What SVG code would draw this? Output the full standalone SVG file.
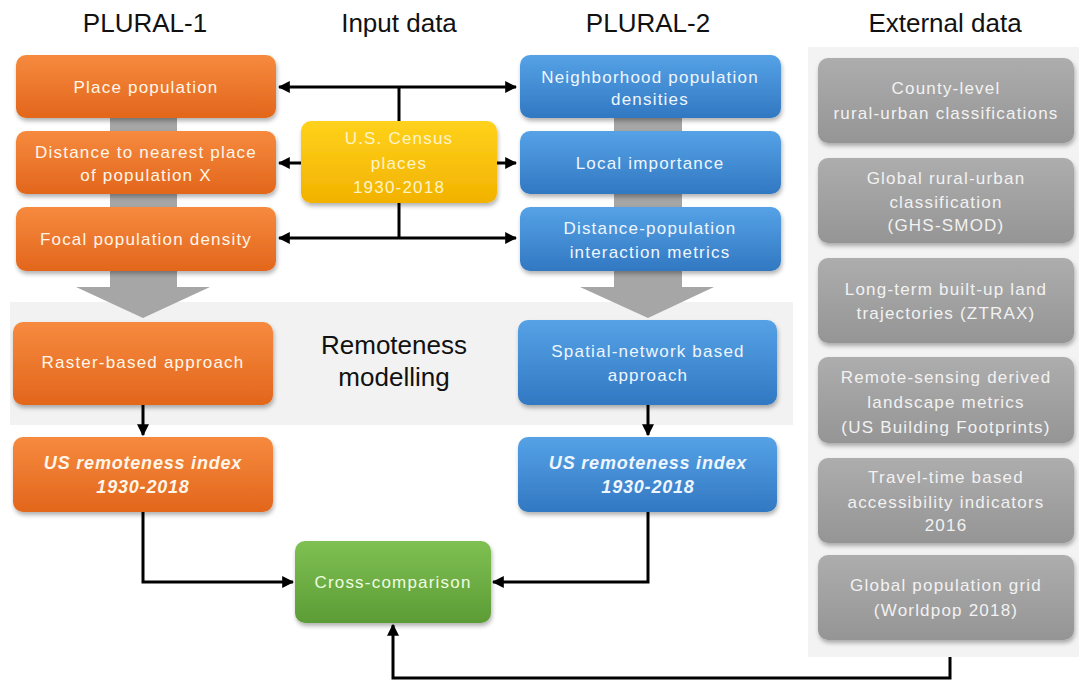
<svg xmlns="http://www.w3.org/2000/svg" width="1079" height="683" viewBox="0 0 1079 683">
<defs>
<linearGradient id="gO" x1="0" y1="0" x2="0" y2="1"><stop offset="0" stop-color="#f68a3e"/><stop offset="1" stop-color="#e2661c"/></linearGradient>
<linearGradient id="gB" x1="0" y1="0" x2="0" y2="1"><stop offset="0" stop-color="#56a2e6"/><stop offset="1" stop-color="#3178c2"/></linearGradient>
<linearGradient id="gY" x1="0" y1="0" x2="0" y2="1"><stop offset="0" stop-color="#ffd21c"/><stop offset="1" stop-color="#f2b200"/></linearGradient>
<linearGradient id="gG" x1="0" y1="0" x2="0" y2="1"><stop offset="0" stop-color="#7fc052"/><stop offset="1" stop-color="#5c9c36"/></linearGradient>
<linearGradient id="gK" x1="0" y1="0" x2="0" y2="1"><stop offset="0" stop-color="#adadad"/><stop offset="1" stop-color="#959595"/></linearGradient>
<filter id="sh" x="-10%" y="-10%" width="120%" height="130%"><feDropShadow dx="1" dy="3" stdDeviation="2" flood-color="#000" flood-opacity="0.3"/></filter>
<marker id="ah" viewBox="0 0 10 10" refX="9" refY="5" markerWidth="4" markerHeight="4" orient="auto-start-reverse" markerUnits="strokeWidth"><path d="M0,0 L10,5 L0,10 z" fill="#000"/></marker>
</defs>
<style>
text{font-family:"Liberation Sans",Arial,sans-serif;text-anchor:middle}
.title{font-size:26px;fill:#111}
.t{font-size:17px;letter-spacing:1.2px}
.tw{fill:#fff6ea}
.tb{fill:#eef6ff}
.ty{fill:#fff4c8}
.tk{fill:#f2f2f2}
.tg{fill:#eefde0}
.ti{font-size:18px;font-weight:bold;font-style:italic;letter-spacing:0.8px}
.bo{fill:url(#gO);filter:url(#sh)}
.bb{fill:url(#gB);filter:url(#sh)}
.by{fill:url(#gY);filter:url(#sh)}
.bg{fill:url(#gG);filter:url(#sh)}
.bk{fill:url(#gK);filter:url(#sh)}
.ln{fill:none;stroke:#000;stroke-width:3}
.gr{fill:#a6a6a6}
</style>
<rect width="1079" height="683" fill="#fff"/>
<!-- backgrounds -->
<rect x="10" y="302" width="783" height="123" fill="#f2f2f2"/>
<rect x="808" y="47" width="271" height="610" fill="#f3f3f3"/>
<!-- titles -->
<text class="title" x="145" y="32">PLURAL-1</text>
<text class="title" x="399" y="32">Input data</text>
<text class="title" x="648" y="32">PLURAL-2</text>
<text class="title" x="945" y="32">External data</text>
<text x="394" y="354" style="font-size:26px;fill:#111">Remoteness</text>
<text x="394" y="386" style="font-size:26px;fill:#111">modelling</text>
<!-- big gray arrows -->
<g id="flow-arrows">
<rect class="gr" x="110" y="115" width="67" height="175"/>
<path class="gr" d="M76,287 L210,287 L143,318 z"/>
<rect class="gr" x="614" y="115" width="68" height="175"/>
<path class="gr" d="M580,287 L714,287 L648,318 z"/>
</g>
<!-- connectors -->
<g id="connectors">
<path class="ln" d="M399,121 V87"/>
<path class="ln" d="M279,87 H516" marker-start="url(#ah)" marker-end="url(#ah)"/>
<path class="ln" d="M301,163 H279" marker-end="url(#ah)"/>
<path class="ln" d="M497,163 H516" marker-end="url(#ah)"/>
<path class="ln" d="M399,203 V238"/>
<path class="ln" d="M279,238 H516" marker-start="url(#ah)" marker-end="url(#ah)"/>
<path class="ln" d="M143,405 V435" marker-end="url(#ah)"/>
<path class="ln" d="M648,405 V435" marker-end="url(#ah)"/>
<path class="ln" d="M143,512 V582 H293" marker-end="url(#ah)"/>
<path class="ln" d="M648,512 V582 H493" marker-end="url(#ah)"/>
<path class="ln" d="M950,657 V678 H393 V625" marker-end="url(#ah)"/>
</g>
<!-- PLURAL-1 -->
<g id="place-population"><rect class="bo" x="16" y="55" width="260" height="63" rx="10"/><text class="t tw" x="146" y="93">Place population</text></g>
<g id="distance-nearest"><rect class="bo" x="16" y="131" width="260" height="63" rx="10"/><text class="t tw" x="146" y="158">Distance to nearest place</text><text class="t tw" x="146" y="181">of population X</text></g>
<g id="focal-density"><rect class="bo" x="16" y="207" width="260" height="64" rx="10"/><text class="t tw" x="146" y="245">Focal population density</text></g>
<g id="raster"><rect class="bo" x="13" y="322" width="260" height="83" rx="10"/><text class="t tw" x="143" y="368">Raster-based approach</text></g>
<g id="index-1"><rect class="bo" x="13" y="437" width="260" height="75" rx="10"/><text class="ti tw" x="143" y="469">US remoteness index</text><text class="ti tw" x="143" y="493">1930-2018</text></g>
<!-- input -->
<g id="census"><rect class="by" x="301" y="121" width="196" height="82" rx="10"/><text class="t ty" x="399" y="144">U.S. Census</text><text class="t ty" x="399" y="169">places</text><text class="t ty" x="399" y="193">1930-2018</text></g>
<!-- PLURAL-2 -->
<g id="neighborhood"><rect class="bb" x="520" y="55" width="261" height="63" rx="10"/><text class="t tb" x="650" y="83">Neighborhood population</text><text class="t tb" x="650" y="105">densities</text></g>
<g id="local-importance"><rect class="bb" x="520" y="131" width="261" height="63" rx="10"/><text class="t tb" x="650" y="169">Local importance</text></g>
<g id="distance-population"><rect class="bb" x="520" y="207" width="261" height="64" rx="10"/><text class="t tb" x="650" y="234">Distance-population</text><text class="t tb" x="650" y="258">interaction metrics</text></g>
<g id="spatial-network"><rect class="bb" x="518" y="320" width="259" height="85" rx="10"/><text class="t tb" x="648" y="357">Spatial-network based</text><text class="t tb" x="648" y="381">approach</text></g>
<g id="index-2"><rect class="bb" x="518" y="437" width="259" height="75" rx="10"/><text class="ti tb" x="648" y="469">US remoteness index</text><text class="ti tb" x="648" y="493">1930-2018</text></g>
<!-- cross comparison -->
<g id="cross-comparison"><rect class="bg" x="295" y="541" width="196" height="82" rx="10"/><text class="t tg" x="393" y="588">Cross-comparison</text></g>
<!-- external -->
<g id="ext-county"><rect class="bk" x="818" y="58" width="256" height="85" rx="10"/><text class="t tk" x="946" y="94">County-level</text><text class="t tk" x="946" y="119">rural-urban classifications</text></g>
<g id="ext-ghs"><rect class="bk" x="818" y="158" width="256" height="85" rx="10"/><text class="t tk" x="946" y="184">Global rural-urban</text><text class="t tk" x="946" y="208">classification</text><text class="t tk" x="946" y="231">(GHS-SMOD)</text></g>
<g id="ext-ztrax"><rect class="bk" x="818" y="258" width="256" height="85" rx="10"/><text class="t tk" x="946" y="295">Long-term built-up land</text><text class="t tk" x="946" y="319">trajectories (ZTRAX)</text></g>
<g id="ext-footprints"><rect class="bk" x="818" y="357" width="256" height="86" rx="10"/><text class="t tk" x="946" y="383">Remote-sensing derived</text><text class="t tk" x="946" y="408">landscape metrics</text><text class="t tk" x="946" y="433">(US Building Footprints)</text></g>
<g id="ext-travel"><rect class="bk" x="818" y="458" width="256" height="85" rx="10"/><text class="t tk" x="946" y="483">Travel-time based</text><text class="t tk" x="946" y="508">accessibility indicators</text><text class="t tk" x="946" y="531">2016</text></g>
<g id="ext-worldpop"><rect class="bk" x="818" y="555" width="256" height="85" rx="10"/><text class="t tk" x="946" y="591">Global population grid</text><text class="t tk" x="946" y="616">(Worldpop 2018)</text></g>
</svg>
